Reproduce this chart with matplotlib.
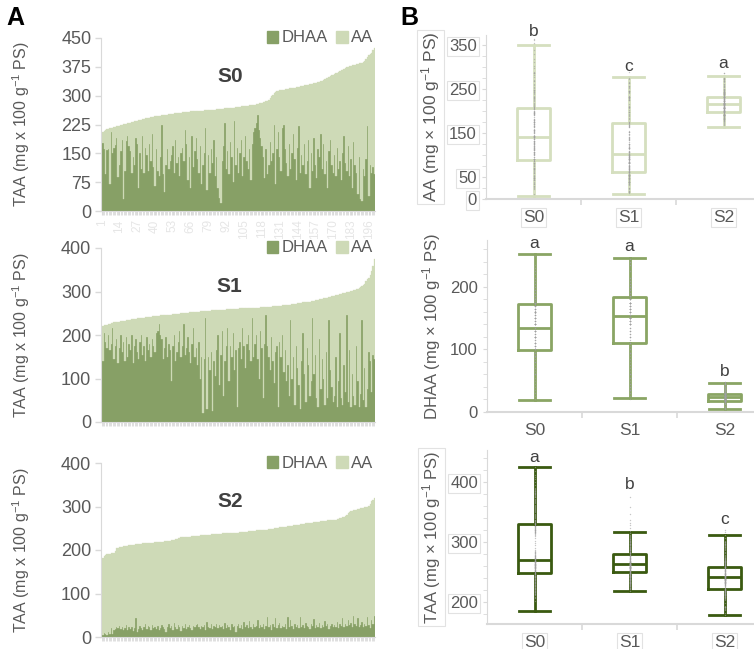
import numpy as np
import matplotlib
matplotlib.use("Agg")
import matplotlib.pyplot as plt
from matplotlib.patches import Patch

plt.rcParams['font.family'] = ['Liberation Sans', 'DejaVu Sans']
plt.rcParams['mathtext.fontset'] = 'custom'
plt.rcParams['mathtext.rm'] = 'Liberation Sans'
plt.rcParams['mathtext.default'] = 'regular'

# ---------------- Panel A data (per-sample, sorted by TAA) ----------------
s0_taa = [202,206,209,211,213,214,215,216,217,218,
          219,220,221,222,223,224,225,226,227,228,
          229,230,231,232,233,234,235,236,237,238,
          239,240,241,241,242,243,244,244,245,246,
          246,247,248,248,249,250,250,251,251,252,
          252,253,253,254,254,255,255,256,256,257,
          257,257,258,258,258,259,259,259,260,260,
          260,260,261,261,261,262,262,262,263,263,
          263,264,264,264,265,265,265,266,266,266,
          267,267,267,268,268,268,269,269,270,270,
          271,271,272,272,273,273,274,274,275,275,
          276,276,277,278,279,280,281,282,283,284,
          285,287,290,294,298,302,306,309,311,313,
          314,315,316,316,317,318,318,319,319,320,
          320,321,322,323,323,324,325,326,327,327,
          328,329,330,330,331,332,333,334,335,336,
          337,339,341,343,345,347,349,351,353,354,
          356,358,360,362,364,366,368,370,372,374,
          375,376,378,379,380,381,382,383,384,385,
          386,388,389,395,400,405,408,412,418,424]
s0_dhaa = [180,178,160,95,158,162,70,205,150,165,172,190,88,120,155,185,30,105,182,195,
           170,155,100,140,120,190,175,60,150,110,195,100,165,145,105,175,130,200,115,65,
           160,105,90,140,225,95,50,120,160,110,130,145,170,100,185,125,140,90,150,165,
           130,210,175,80,140,60,195,115,155,190,135,100,170,70,120,150,215,55,145,100,
           160,125,185,90,140,60,35,20,130,170,
           230,110,155,95,180,140,75,235,120,165,100,150,185,90,140,195,130,110,160,80,
           175,205,215,230,250,210,190,170,140,85,160,95,120,180,130,150,225,70,160,205,
           140,105,215,225,160,125,90,175,110,150,200,135,80,165,220,100,145,120,175,95,
           130,185,60,150,105,190,120,85,160,140,200,110,175,95,130,60,155,185,120,100,
           145,90,165,110,130,80,150,195,125,105,
           170,90,135,60,180,120,100,45,140,30,25,110,90,135,220,40,120,100,115,95]

s1_taa = [219,221,222,223,224,225,226,227,228,229,
          230,230,231,231,232,232,233,233,234,234,
          235,235,236,236,237,237,238,238,239,239,
          240,240,241,241,241,242,242,243,243,243,
          244,244,244,245,245,245,246,246,246,247,
          247,247,248,248,248,249,249,249,250,250,
          250,251,251,251,252,252,252,253,253,253,
          254,254,255,255,255,255,256,256,256,256,
          257,257,257,257,257,258,258,258,258,258,
          258,259,259,259,259,259,260,260,260,260,
          260,261,261,261,261,261,262,262,262,262,
          262,263,263,263,263,263,264,264,264,264,
          264,265,265,265,265,266,266,266,266,267,
          267,267,268,268,268,269,269,270,270,271,
          271,272,272,273,273,274,274,275,275,276,
          276,277,277,278,279,279,280,281,281,282,
          283,283,284,285,286,286,287,288,289,290,
          290,291,292,293,294,295,296,297,297,298,
          299,300,301,302,303,304,305,306,308,310,
          312,314,318,323,328,332,337,346,358,375]
s1_dhaa = [150,140,205,185,170,200,165,180,215,145,175,190,135,170,200,160,185,140,195,150,
           180,165,200,135,175,190,160,145,185,200,155,175,140,195,165,180,150,190,175,160,
           205,210,225,200,190,145,170,195,150,180,165,95,175,200,140,160,185,210,150,175,
           225,155,170,195,160,135,180,215,150,170,
           130,185,100,150,20,145,240,30,150,120,
           160,25,140,105,165,200,85,155,210,60,
           140,175,215,95,175,150,205,120,165,35,
           170,185,145,215,175,125,180,200,165,140,
           240,150,180,200,145,100,210,170,55,180,
           245,175,150,120,195,140,90,160,175,35,
           185,150,200,115,165,95,130,60,235,100,
           150,40,175,125,85,30,140,205,110,45,
           170,130,60,95,240,110,155,55,35,190,
           75,145,100,40,160,55,235,120,80,45,
           60,150,35,95,205,55,40,130,70,245,
           45,165,35,110,60,40,175,95,35,65,
           235,50,125,35,75,160,140,70,155,145]

s2_taa = [178,182,186,189,190,191,191,192,192,193,
          198,204,205,206,207,208,209,209,210,210,
          211,211,212,212,212,213,213,214,214,214,
          215,215,215,216,216,216,217,217,217,218,
          218,218,219,219,219,219,220,220,220,221,
          221,222,223,224,225,226,227,228,229,229,
          230,230,230,231,231,231,232,232,232,233,
          233,233,234,234,234,234,235,235,235,235,
          236,236,236,236,237,237,237,237,238,238,
          238,238,238,239,239,239,239,240,240,240,
          240,241,241,241,242,242,242,243,243,243,
          244,244,244,245,245,245,246,246,246,247,
          247,247,248,248,249,249,250,250,251,251,
          252,252,253,253,254,254,255,255,256,256,
          257,257,258,258,258,259,259,260,260,261,
          261,262,262,263,263,264,264,265,265,265,
          266,266,267,267,267,268,268,268,269,269,
          270,270,271,272,273,274,275,277,279,281,
          284,287,289,290,291,292,293,294,295,296,
          296,297,298,299,300,302,306,312,316,320]
s2_dhaa = [8,5,10,6,4,12,8,20,7,15,18,22,20,25,19,23,17,21,28,16,
           24,19,22,14,20,44,12,18,26,21,17,23,30,19,25,22,16,27,20,24,
           18,26,15,21,28,24,19,12,23,29,
           20,25,17,33,22,19,27,24,14,26,21,30,18,23,28,20,16,25,22,27,
           31,24,19,26,22,28,17,35,24,21,29,18,26,23,30,20,27,22,25,19,
           33,21,28,24,17,30,22,26,12,25,31,20,27,19,34,23,28,21,36,24,
           18,29,22,26,40,20,27,24,31,19,25,45,22,28,17,30,23,44,21,27,
           33,20,26,24,29,19,47,22,38,25,18,30,23,27,21,45,24,28,20,32,
           26,22,19,30,25,42,21,27,24,33,20,28,23,36,25,29,19,26,31,22,
           28,24,35,21,30,26,44,23,29,25,40,27,32,22,48,30,26,43,24,28,
           34,22,30,25,46,27,20,38,29,48]

panel_names = ["S0", "S1", "S2"]
panel_taa = [s0_taa, s1_taa, s2_taa]
panel_dhaa = [s0_dhaa, s1_dhaa, s2_dhaa]
panel_ymax = [450, 400, 400]
panel_yticks = [[0, 75, 150, 225, 300, 375, 450], [0, 100, 200, 300, 400], [0, 100, 200, 300, 400]]
sample_tick_labels = [str(v) for v in range(1, 200, 13)]

# ---------------- Panel B data (box statistics) ----------------
groups = ["S0", "S1", "S2"]
aa_med = [140, 102, 215]
aa_q1 = [88, 62, 198]
aa_q3 = [207, 173, 231]
aa_lo = [7, 11, 164]
aa_hi = [350, 278, 280]
aa_letters = ["b", "c", "a"]
aa_letter_y = [380, 302, 309]

dhaa_med = [135, 153, 23.5]
dhaa_q1 = [99, 110, 17.6]
dhaa_q3 = [172, 184, 29]
dhaa_lo = [19, 23, 4]
dhaa_hi = [253, 246, 46]
dhaa_letters = ["a", "a", "b"]
dhaa_letter_y = [270, 264, 64]

taa_med = [270, 263, 241]
taa_q1 = [248, 250, 222]
taa_q3 = [329, 280, 259]
taa_lo = [185, 218, 178]
taa_hi = [424, 316, 312]
taa_letters = ["a", "b", "c"]
taa_letter_y = [440, 395, 337]

C_DHAA = "#87A066"
C_AA = "#CEDAB7"
TXT = "#595959"
GRID = "#d9d9d9"

fig = plt.figure(figsize=(7.54, 6.49), dpi=100)
W, H = 754.0, 649.0

def fax(l, t, r, b):
    return fig.add_axes([l / W, 1 - b / H, (r - l) / W, (b - t) / H])

# ---------------- Panel A ----------------
a_boxes = [(101, 38, 375, 211), (101, 248, 375, 422), (101, 463, 375, 637)]
for k in range(3):
    ax = fax(*a_boxes[k])
    taa = np.array(panel_taa[k], dtype=float)
    dh = np.array(panel_dhaa[k], dtype=float)
    aa = taa - dh
    idx = np.arange(len(taa))
    ax.bar(idx, dh, width=1.0, color=C_DHAA, edgecolor=C_DHAA, linewidth=0.2, label="DHAA")
    ax.bar(idx, aa, bottom=dh, width=1.0, color=C_AA, edgecolor=C_AA, linewidth=0.2, label="AA")
    ax.set_xlim(-0.5, len(taa) - 0.5)
    ax.set_ylim(0, panel_ymax[k])
    ax.set_yticks(panel_yticks[k])
    ax.tick_params(axis='y', colors=GRID, labelcolor=TXT, labelsize=13, length=4, width=1, pad=3)
    ax.set_xticks(idx, minor=True)
    ax.tick_params(axis='x', which='minor', length=3, color=GRID, width=0.6)
    if k == 0:
        ax.set_xticks(idx[::13])
        ax.set_xticklabels(sample_tick_labels, rotation=90, color="#e6e6e6", fontsize=8.5)
        ax.tick_params(axis='x', which='major', length=3, color=GRID, pad=3)
    else:
        ax.set_xticks([])
    for s in ["top", "right"]:
        ax.spines[s].set_visible(False)
    ax.spines["left"].set_color(GRID)
    ax.spines["bottom"].set_color(GRID)
    ax.set_ylabel("TAA (mg x 100 g$^{-1}$ PS)", color=TXT, fontsize=11.5)
    ax.yaxis.set_label_coords(-0.25, 0.5)
    ax.text(0.47, 0.78, panel_names[k], transform=ax.transAxes, ha="center", va="center",
            fontsize=15, fontweight="bold", color="#404040")
    ax.legend(handles=[Patch(color=C_DHAA, label="DHAA"), Patch(color=C_AA, label="AA")],
              loc="center right", bbox_to_anchor=(1.0, 1.0), ncol=2, frameon=False,
              handlelength=0.7, handleheight=0.7, handletextpad=0.2, columnspacing=0.5,
              fontsize=12, labelcolor=TXT, borderaxespad=0, borderpad=0.1)

# ---------------- Panel B ----------------
def stats(med, q1, q3, lo, hi):
    return [dict(med=med[i], q1=q1[i], q3=q3[i], whislo=lo[i], whishi=hi[i], fliers=[])
            for i in range(len(med))]

b_specs = [
    dict(box=(486, 35, 771, 199), ylim=(0, 373), major=[0, 50, 150, 250, 350], minor=np.arange(0, 375, 25),
         st=stats(aa_med, aa_q1, aa_q3, aa_lo, aa_hi), color="#D5DFBF",
         pts=[np.array(panel_taa[i]) - np.array(panel_dhaa[i]) for i in range(3)],
         letters=aa_letters, ly=aa_letter_y, label="AA (mg \u00d7 100 g$^{-1}$ PS)", boxed=True, ls=12.5),
    dict(box=(487, 240, 772, 412), ylim=(0, 275), major=[0, 100, 200], minor=np.arange(0, 275, 20),
         st=stats(dhaa_med, dhaa_q1, dhaa_q3, dhaa_lo, dhaa_hi), color="#8AA564",
         pts=[np.array(panel_dhaa[i]) for i in range(3)],
         letters=dhaa_letters, ly=dhaa_letter_y, label="DHAA (mg \u00d7 100 g$^{-1}$ PS)", boxed=False, ls=12),
    dict(box=(487, 450, 772, 624), ylim=(163.3, 453), major=[200, 300, 400], minor=np.arange(180, 453, 20),
         st=stats(taa_med, taa_q1, taa_q3, taa_lo, taa_hi), color="#3A5A10",
         pts=[np.array(panel_taa[i]) for i in range(3)],
         letters=taa_letters, ly=taa_letter_y, label="TAA (mg \u00d7 100 g$^{-1}$ PS)", boxed=True, ls=12),
]
bbox_style = dict(boxstyle="square,pad=0.12", fc="white", ec="#e2e2e2", lw=0.8)
for sp in b_specs:
    ax = fax(*sp["box"])
    c = sp["color"]
    lw = 2.0
    ax.bxp(sp["st"], positions=[0, 1, 2], widths=0.35, capwidths=0.32, showfliers=False,
           boxprops=dict(color=c, lw=lw), whiskerprops=dict(color=c, lw=lw),
           capprops=dict(color=c, lw=lw), medianprops=dict(color=c, lw=lw), manage_ticks=False)
    for i in range(3):
        ax.scatter(np.full(len(sp["pts"][i]), i), sp["pts"][i], s=1.0, color="#a0a0a0",
                   alpha=0.6, zorder=4, linewidths=0)
        ax.text(i, sp["ly"][i], sp["letters"][i], ha="center", va="center", fontsize=12.5,
                color="#404040", clip_on=False)
    ax.set_xlim(-0.5, 2.5)
    ax.set_ylim(*sp["ylim"])
    ax.set_xticks([0, 1, 2])
    ax.set_xticklabels(groups)
    ax.set_xticks([0.5, 1.5], minor=True)
    ax.tick_params(axis='x', which='major', length=0, labelsize=12.5, labelcolor=TXT, pad=8)
    ax.tick_params(axis='x', which='minor', length=4, color=GRID, width=1.2)
    ax.set_yticks(sp["major"])
    ax.set_yticks(sp["minor"], minor=True)
    ax.tick_params(axis='y', which='both', length=3, color=GRID, labelsize=12, labelcolor=TXT)
    for s in ["top", "right"]:
        ax.spines[s].set_visible(False)
    ax.spines["left"].set_color(GRID)
    ax.spines["bottom"].set_color(GRID)
    ax.spines["bottom"].set_linewidth(1.5)
    ax.set_ylabel(sp["label"], color=TXT, fontsize=sp["ls"], labelpad=5)
    if sp["boxed"]:
        for t in ax.get_yticklabels() + ax.get_xticklabels():
            t.set_bbox(bbox_style)
        ax.yaxis.label.set_bbox(bbox_style)

fig.text(6 / W, 1 - 18 / H, "A", fontsize=18, fontweight="bold", va="center", ha="left")
fig.text(400 / W, 1 - 18 / H, "B", fontsize=18, fontweight="bold", va="center", ha="left")

fig.savefig("out.png", dpi=100)
